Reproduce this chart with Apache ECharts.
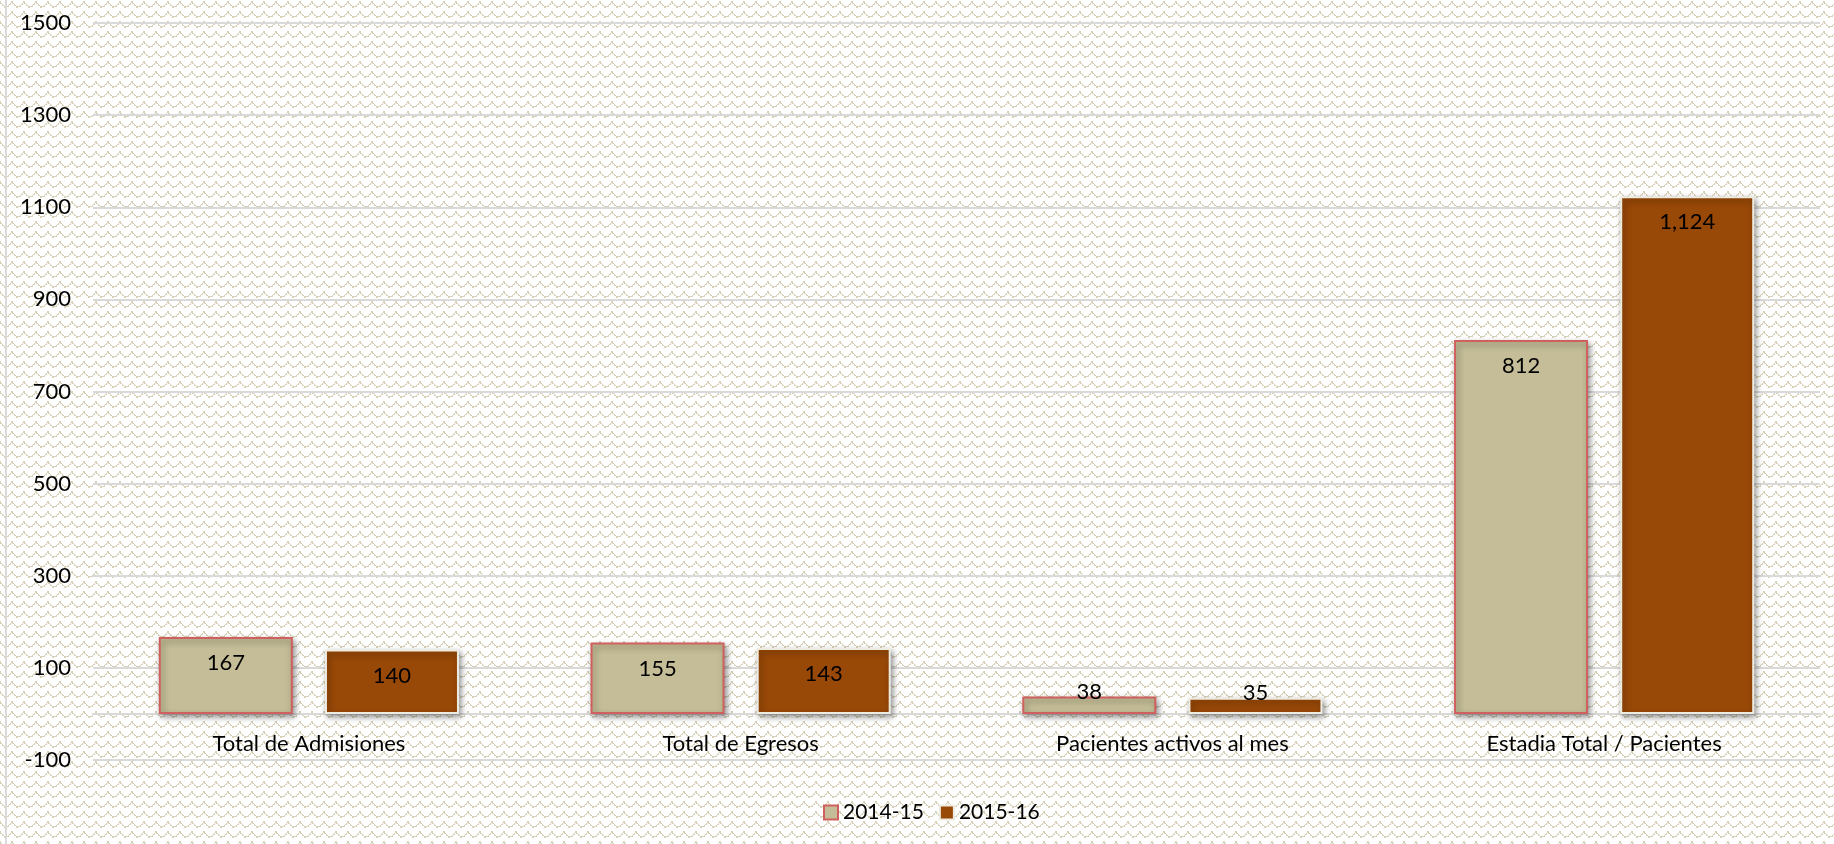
<!DOCTYPE html>
<html>
<head>
<meta charset="utf-8">
<script src="https://cdn.jsdelivr.net/npm/echarts@6/dist/echarts.min.js"></script>
<style>
  html, body { margin: 0; padding: 0; background: #ffffff; }
  #chart { width: 1834px; height: 844px; }
</style>
</head>
<body>
<div id="chart"></div>
<script>
const categories = ['Total de Admisiones', 'Total de Egresos', 'Pacientes activos al mes', 'Estadia Total / Pacientes'];
const seriesNames = ['2014-15', '2015-16'];
const values2014 = [167, 155, 38, 812];
const values2015 = [140, 143, 35, 1124];
const yTicks = [-100, 100, 300, 500, 700, 900, 1100, 1300, 1500];

// wave pattern tile
function makePattern() {
  const c = document.createElement('canvas');
  c.width = 12; c.height = 10;
  const g = c.getContext('2d');
  g.fillStyle = '#ffffff';
  g.fillRect(0, 0, 12, 10);
  g.fillStyle = '#D7D1B7';
  const pts = [[0,2],[1,3],[2,4],[3,5],[4,6],[6,6],[8,5],[9,4],[10,3],[11,2],[5,6],[7,6],[0,1],[11,1]];
  pts.forEach((p, i) => g.fillRect(p[0], p[1], 1, (i % 2 === 0) ? 2 : 1));
  return c;
}

const chart = echarts.init(document.getElementById('chart'));
const FONT = 'Lato';
const FS = 22;

function labelFor(v) {
  if (v < 100) {
    return { show: true, position: 'top', distance: -6 };
  }
  return { show: true, position: 'insideTop', distance: 15 };
}

function buildData(vals) {
  return vals.map(v => ({ value: v, label: labelFor(v) }));
}

const option = {
  backgroundColor: { image: makePattern(), repeat: 'repeat' },
  animation: false,
  textStyle: { fontFamily: FONT },
  grid: { left: 93, right: 14, top: 23, bottom: 84, containLabel: false },
  legend: {
    data: seriesNames,
    left: 818,
    top: 797,
    itemWidth: 14,
    itemHeight: 14,
    itemGap: 15,
    icon: 'rect',
    textStyle: { fontFamily: FONT, fontSize: 21, color: '#000000' }
  },
  xAxis: {
    type: 'category',
    data: categories,
    axisTick: { show: false },
    axisLine: { show: true, onZero: true, lineStyle: { color: '#D9D9D9', width: 2 } },
    axisLabel: { fontFamily: FONT, fontSize: FS, color: '#000000', margin: -27 },
    splitLine: { show: false }
  },
  yAxis: {
    type: 'value',
    min: yTicks[0],
    max: yTicks[yTicks.length - 1],
    interval: yTicks[1] - yTicks[0],
    axisLine: { show: false },
    axisTick: { show: false },
    axisLabel: { fontFamily: FONT, fontSize: FS, color: '#000000', margin: 22,
      formatter: v => String(v) },
    splitLine: { show: true, lineStyle: { color: '#D9D9D9', width: 2 } }
  },
  series: [
    {
      name: seriesNames[0],
      type: 'bar',
      data: buildData(values2014),
      barWidth: 134,
      barGap: '24%',
      itemStyle: {
        color: '#C4BD97',
        borderColor: '#D0605E',
        borderWidth: 2,
        shadowColor: 'rgba(0,0,0,0.4)',
        shadowBlur: 6,
        shadowOffsetX: 2,
        shadowOffsetY: 3
      },
      label: { fontFamily: FONT, fontSize: FS, color: '#000000',
        formatter: p => p.value.toLocaleString('en-US') }
    },
    {
      name: seriesNames[1],
      type: 'bar',
      data: buildData(values2015),
      barWidth: 134,
      itemStyle: {
        color: '#984807',
        borderColor: '#EEECE1',
        borderWidth: 2,
        shadowColor: 'rgba(0,0,0,0.4)',
        shadowBlur: 6,
        shadowOffsetX: 2,
        shadowOffsetY: 3
      },
      label: { fontFamily: FONT, fontSize: FS, color: '#000000',
        formatter: p => p.value.toLocaleString('en-US') }
    }
  ],
  graphic: [
    { type: 'line', shape: { x1: 6, y1: 0, x2: 6, y2: 844 }, style: { stroke: '#D9D9D9', lineWidth: 2 }, silent: true }
  ]
};
chart.setOption(option);
</script>
</body>
</html>
